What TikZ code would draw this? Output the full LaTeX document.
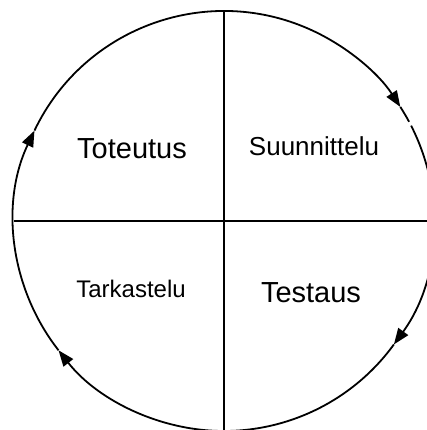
\documentclass[tikz,border=0pt]{standalone}
\usepackage{fontspec}
\setmainfont{Liberation Sans}
\usetikzlibrary{arrows.meta}

\begin{document}
\begin{tikzpicture}[
        x=1pt, y=1pt,
        every node/.style={inner sep=0pt, anchor=base},
        ring/.style={line width=1.8pt},
        ringarrow/.style={ring, -{Triangle[length=16pt,width=12pt]}}
    ]
        \useasboundingbox (0,0) rectangle (427,430);
        \clip (0,0) rectangle (427,430);

        \coordinate (c) at (224,209);
        \coordinate (n) at ([shift={(90:210pt)}]c);
        \coordinate (s) at ([shift={(-90:212pt)}]c);
        \coordinate (w) at ([shift={(180:210pt)}]c);
        \coordinate (e) at ([shift={(0:212pt)}]c);

        % the four phases
        \node[font=\fontsize{29}{29}\selectfont] (toteutus)    at (132,271) {Toteutus};
        \node[font=\fontsize{26}{26}\selectfont] (suunnittelu) at (314,274.5) {Suunnittelu};
        \node[font=\fontsize{24}{24}\selectfont] (tarkastelu)  at (131,132.5) {Tarkastelu};
        \node[font=\fontsize{29}{29}\selectfont] (testaus)     at (311,127) {Testaus};

        \draw[ring] (n) -- (s);
        \draw[ring] (w) -- (e);

        % cycle, clockwise
        \draw[ringarrow] ([shift={(154.5:210pt)}]c) arc[start angle=154.5, end angle=32.9, radius=210pt];
        \draw[ring] ([shift={(32.9:210pt)}]c) arc[start angle=32.9, end angle=28.2, radius=210pt];
        \draw[ringarrow] ([shift={(27.0:210pt)}]c) arc[start angle=27.0, end angle=-36, radius=210pt];
        \draw[ringarrow] ([shift={(-36:210pt)}]c) arc[start angle=-36, end angle=-142, radius=210pt];
        \draw[ringarrow] ([shift={(-142:210pt)}]c) arc[start angle=-142, end angle=-205.5, radius=210pt];
    \end{tikzpicture}
\end{document}
